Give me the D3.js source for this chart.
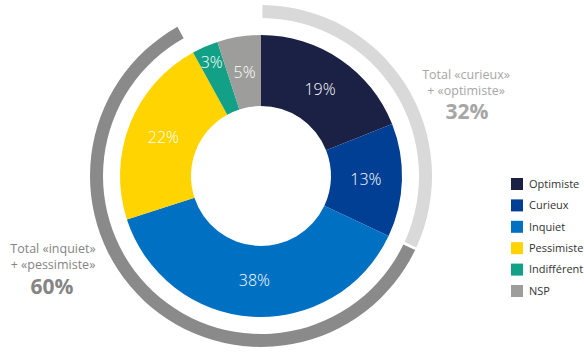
<!DOCTYPE html>
<html>
<head>
<meta charset="utf-8">
<script src="https://cdn.jsdelivr.net/npm/d3@7"></script>
<style>
  body { margin: 0; background: #fff; }
  text { font-family: "Open Sans", "Noto Sans", sans-serif; }
</style>
</head>
<body>
<div id="chart"></div>
<script>
// data
const categories = ["Optimiste", "Curieux", "Inquiet", "Pessimiste", "Indifférent", "NSP"];
const values = [19, 13, 38, 22, 3, 5];
const colors = ["#1a2145", "#003f93", "#0070c3", "#ffd400", "#12a086", "#9d9d9b"];

const groupNames = ["curieux_optimiste", "inquiet_pessimiste", "reste"];
const groupValues = [32, 60, 8];
const groupColors = ["#d9d9d9", "#8a8a8a", "none"];

const width = 584, height = 354;
const cx = 261, cy = 176;

const svg = d3.select("#chart")
    .append("svg")
        .attr("width", width)
        .attr("height", height);

const g = svg.append("g")
    .attr("transform", `translate(${cx}, ${cy})`);

const pie = d3.pie().sort(null).value(d => d);

// outer ring
const ringArc = d3.arc().innerRadius(158).outerRadius(171).padAngle(0.012);
g.selectAll(".ring")
    .data(pie(groupValues))
    .join("path")
        .attr("class", "ring")
        .attr("fill", (d, i) => groupColors[i])
        .attr("d", ringArc);

// donut
const arc = d3.arc().innerRadius(70).outerRadius(141);
const slices = pie(values);
g.selectAll(".slice")
    .data(slices)
    .join("path")
        .attr("class", "slice")
        .attr("fill", (d, i) => colors[i])
        .attr("d", arc);

const labelArc = d3.arc().innerRadius(105).outerRadius(105);
const smallArc = d3.arc().innerRadius(124).outerRadius(124);
g.selectAll(".lbl")
    .data(slices)
    .join("text")
        .attr("class", "lbl")
        .attr("transform", d => `translate(${(d.data <= 3 ? smallArc : labelArc).centroid(d)})`)
        .attr("text-anchor", "middle")
        .attr("dy", "0.35em")
        .attr("fill", "#fff")
        .attr("font-size", 16)
        .attr("font-weight", 300)
        .text(d => d.data + "%");

// annotations
const rightNote = svg.append("text").attr("text-anchor", "middle").attr("fill", "#a6a6a6");
rightNote.append("tspan").attr("x", 466).attr("y", 79).attr("font-size", 12.5).text("Total «curieux»");
rightNote.append("tspan").attr("x", 466).attr("y", 95).attr("font-size", 12.5).text("+ «optimiste»");
rightNote.append("tspan").attr("x", 467).attr("y", 119).attr("font-size", 21).attr("font-weight", "bold").text(groupValues[0] + "%");

const leftNote = svg.append("text").attr("text-anchor", "middle").attr("fill", "#858585");
leftNote.append("tspan").attr("x", 53).attr("y", 253).attr("font-size", 12.5).text("Total «inquiet»");
leftNote.append("tspan").attr("x", 53).attr("y", 269).attr("font-size", 12.5).text("+ «pessimiste»");
leftNote.append("tspan").attr("x", 52).attr("y", 294).attr("font-size", 21).attr("font-weight", "bold").text(groupValues[1] + "%");

// legend
const legend = svg.append("g").attr("transform", "translate(511, 178)");
const rows = legend.selectAll("g")
    .data(categories)
    .join("g")
        .attr("transform", (d, i) => `translate(0, ${i * 21.4})`);
rows.append("rect")
    .attr("width", 12)
    .attr("height", 12)
    .attr("fill", (d, i) => colors[i]);
rows.append("text")
    .attr("x", 18)
    .attr("y", 6)
    .attr("dy", "0.35em")
    .attr("font-size", 11)
    .attr("fill", "#333")
    .text(d => d);
</script>
</body>
</html>
